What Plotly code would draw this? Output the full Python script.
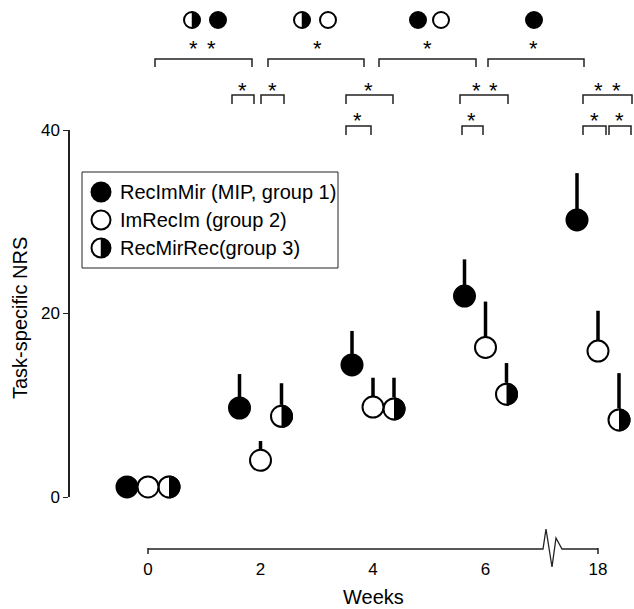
import plotly.graph_objects as go

# ---------------- data ----------------
weeks = [0, 2, 4, 6, 18]
week_labels = ["0", "2", "4", "6", "18"]
g1_mean = [1.1, 9.7, 14.4, 21.9, 30.2]
g1_err = [0, 3.7, 3.7, 4.0, 5.1]
g2_mean = [1.1, 4.0, 9.8, 16.3, 15.9]
g2_err = [0, 2.1, 3.2, 5.0, 4.4]
g3_mean = [1.1, 8.8, 9.6, 11.2, 8.4]
g3_err = [0, 3.6, 3.4, 3.4, 5.1]
group_names = ["RecImMir (MIP, group 1)", "ImRecIm (group 2)", "RecMirRec(group 3)"]
y_ticks = [0, 20, 40]

# ---------------- layout geometry ----------------
W, H = 634, 609
X0, X1 = 148, 598          # x-axis line extent (px) for 0 .. 18 weeks
XD0, XD1 = 96, 634         # data-area horizontal extent (px)
YB, YT = 497, 130          # y-axis 0 and 40 (px)
YAX_X = 69                 # y-axis line position (px)
XAX_Y = 549                # x-axis line position (px)
XMAX = 8                   # axis units (18 weeks drawn after the break)
px_per_unit = (X1 - X0) / XMAX
xr = [-(X0 - XD0) / px_per_unit, XMAX + (XD1 - X1) / px_per_unit]


def axis_pos(w):
    return w if w <= 6 else XMAX


pos = [axis_pos(w) for w in weeks]


def fx(p):
    return p / W


def fy(p):
    return 1 - p / H


MS = 21
LW = 2
off = 21 / px_per_unit
FONT = "Liberation Sans, Arial, sans-serif"
INK = "#222"

err_style = dict(type="data", symmetric=False, thickness=3.5, width=0, color="black")

fig = go.Figure()

# group 1: filled
fig.add_trace(go.Scatter(
    x=[p - off for p in pos], y=g1_mean, mode="markers", cliponaxis=False,
    marker=dict(symbol="circle", size=MS, color="black", line=dict(color="black", width=LW)),
    error_y=dict(array=g1_err, arrayminus=[0] * len(g1_err), **err_style),
    name=group_names[0], showlegend=False))

# group 3: half filled (black circle, white mask on left half, outline)
fig.add_trace(go.Scatter(
    x=[p + off for p in pos], y=g3_mean, mode="markers", cliponaxis=False,
    marker=dict(symbol="circle", size=MS, color="black", line=dict(color="black", width=LW)),
    error_y=dict(array=g3_err, arrayminus=[0] * len(g3_err), **err_style),
    name=group_names[2], showlegend=False))
mask = MS + LW
fig.add_trace(go.Scatter(
    x=[p + off - (mask / 2) / px_per_unit for p in pos], y=g3_mean, mode="markers",
    cliponaxis=False, hoverinfo="skip",
    marker=dict(symbol="square", size=mask, color="white", line=dict(width=0)),
    showlegend=False))
fig.add_trace(go.Scatter(
    x=[p + off for p in pos], y=g3_mean, mode="markers", cliponaxis=False, hoverinfo="skip",
    marker=dict(symbol="circle-open", size=MS, color="black", line=dict(color="black", width=LW)),
    showlegend=False))

# group 2: open
fig.add_trace(go.Scatter(
    x=pos, y=g2_mean, mode="markers", cliponaxis=False,
    marker=dict(symbol="circle", size=MS, color="white", line=dict(color="black", width=LW)),
    error_y=dict(array=g2_err, arrayminus=[0] * len(g2_err), **err_style),
    name=group_names[1], showlegend=False))

shapes = []
annotations = []


def key_symbol(kind, cx, cy, r, lw=2):
    """Legend / significance key symbol drawn as layout shapes (pixel -> paper)."""
    fill = "black" if kind == "filled" else "white"
    shapes.append(dict(type="circle", xref="paper", yref="paper",
                       x0=fx(cx - r), x1=fx(cx + r), y0=fy(cy + r), y1=fy(cy - r),
                       fillcolor=fill, line=dict(color="black", width=lw)))
    if kind == "half":
        k = 0.5523 * r
        pts = [(cx, cy - r), (cx + k, cy - r), (cx + r, cy - k), (cx + r, cy),
               (cx + r, cy + k), (cx + k, cy + r), (cx, cy + r)]
        P = [f"{fx(a):.5f},{fy(b):.5f}" for a, b in pts]
        path = f"M {P[0]} C {P[1]} {P[2]} {P[3]} C {P[4]} {P[5]} {P[6]} Z"
        shapes.append(dict(type="path", xref="paper", yref="paper", path=path,
                           fillcolor="black", line=dict(color="black", width=0.5)))


# ---- x-axis line with break zigzag and end ticks ----
zz = [(X0, XAX_Y), (543, XAX_Y), (546, 529), (552, 567), (556, 538), (562, XAX_Y), (X1, XAX_Y)]
path = "M " + " L ".join(f"{fx(a):.5f},{fy(b):.5f}" for a, b in zz)
shapes.append(dict(type="path", xref="paper", yref="paper", path=path,
                   line=dict(color=INK, width=1.3)))
for xe in (X0, X1):
    shapes.append(dict(type="line", xref="paper", yref="paper",
                       x0=fx(xe), x1=fx(xe), y0=fy(XAX_Y - 1), y1=fy(XAX_Y + 5),
                       line=dict(color=INK, width=1.5)))

# ---- legend box ----
shapes.append(dict(type="rect", xref="paper", yref="paper",
                   x0=fx(82), x1=fx(338), y0=fy(172), y1=fy(268),
                   line=dict(color=INK, width=1)))
leg_kinds = ["filled", "open", "half"]
for i, (kd, t) in enumerate(zip(leg_kinds, group_names)):
    yy = 192 + 28 * i
    key_symbol(kd, 101, yy, 9.5)
    annotations.append(dict(x=fx(119), y=fy(yy), xref="paper", yref="paper", text=t,
                            showarrow=False, font=dict(family=FONT, size=20, color="black"),
                            xanchor="left", yanchor="middle", borderpad=0))

# ---- significance brackets ----
brackets = [  # (x_left px, x_right px, top px, leg px)
    (155, 252, 59, 67), (268, 364, 59, 67), (379, 476, 59, 67), (488, 584, 59, 67),
    (232, 254, 95, 104), (261, 284, 95, 104), (346, 393, 95, 104), (460, 508, 95, 104),
    (583, 632, 95, 104),
    (346, 371, 126, 135), (462, 483, 126, 135), (583, 606, 126, 135), (609, 631, 126, 135),
]
for a, b, t, l in brackets:
    p = f"M {fx(a):.5f},{fy(l):.5f} L {fx(a):.5f},{fy(t):.5f} L {fx(b):.5f},{fy(t):.5f} L {fx(b):.5f},{fy(l):.5f}"
    shapes.append(dict(type="path", xref="paper", yref="paper", path=p,
                       line=dict(color=INK, width=1.5)))

stars = [(193, 43), (212, 43), (317, 43), (427, 43), (533, 43),
         (242, 85), (272, 85), (368, 85), (476, 85), (493, 85), (598, 85), (616, 85),
         (357, 116), (471, 116), (594, 116), (619, 116)]
for sx, sy in stars:
    annotations.append(dict(x=fx(sx), y=fy(sy + 5), xref="paper", yref="paper", text="*",
                            showarrow=False, font=dict(family=FONT, size=22, color="black"),
                            xanchor="center", yanchor="middle"))

top_syms = [(192, "half"), (218, "filled"), (302, "half"), (328, "open"),
            (418, "filled"), (441, "open"), (534, "filled")]
for sx, kd in top_syms:
    key_symbol(kd, sx, 20, 8)

# ---- axis titles ----
annotations.append(dict(x=fx(373), y=fy(597), xref="paper", yref="paper", text="Weeks",
                        showarrow=False, font=dict(family=FONT, size=20, color="black"),
                        xanchor="center", yanchor="middle"))
annotations.append(dict(x=fx(20), y=fy(318), xref="paper", yref="paper",
                        text="Task-specific NRS", textangle=-90,
                        showarrow=False, font=dict(family=FONT, size=20, color="black"),
                        xanchor="center", yanchor="middle"))

fig.update_layout(
    width=W, height=H,
    margin=dict(l=0, r=0, t=0, b=0, autoexpand=False),
    paper_bgcolor="white", plot_bgcolor="rgba(0,0,0,0)",
    font=dict(family=FONT, color="black"),
    showlegend=False,
    shapes=shapes,
    annotations=annotations,
    xaxis=dict(
        domain=[fx(XD0), fx(XD1)], range=xr, anchor="free", position=fy(XAX_Y),
        tickvals=pos, ticktext=week_labels, ticks="", showgrid=False, zeroline=False,
        showline=False, automargin=False,
        tickfont=dict(size=17, family=FONT), ticklabelstandoff=8,
    ),
    yaxis=dict(
        domain=[fy(YB), fy(YT)], range=[0, 40], anchor="free", position=fx(YAX_X),
        tickvals=y_ticks, ticks="outside", ticklen=5, tickwidth=1.2, tickcolor=INK,
        showgrid=False, zeroline=False, showline=True, linecolor=INK, linewidth=1.5,
        tickfont=dict(size=17, family=FONT), automargin=False,
    ),
)

fig.write_html(
    "out.html",
    config={"displayModeBar": False},
    post_script="document.body.style.margin='0';document.body.style.padding='0';"
                "document.body.style.overflow='hidden';",
)
